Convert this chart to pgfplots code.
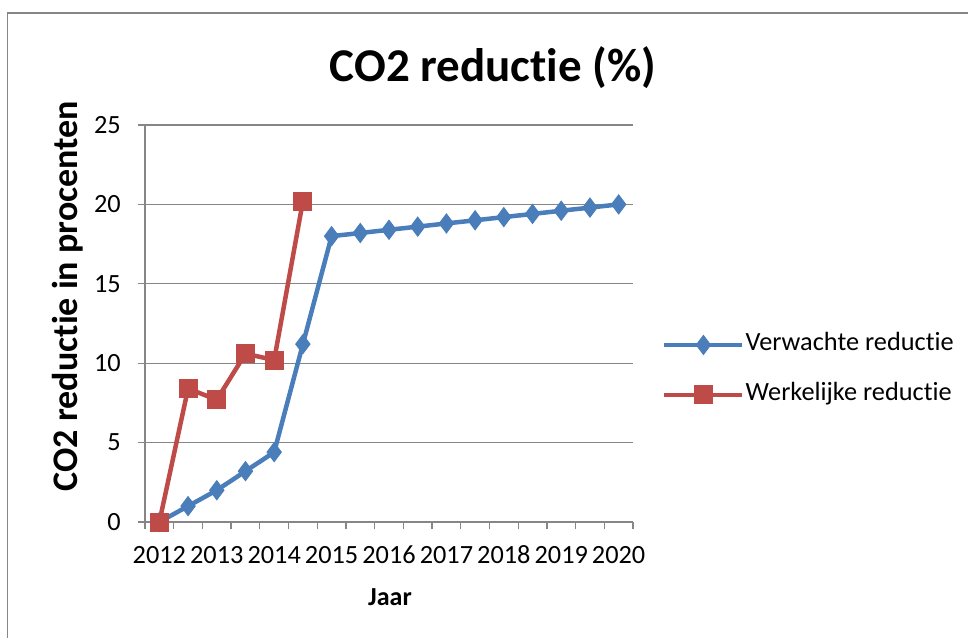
\documentclass[border=0pt]{standalone}
\usepackage{pgfplots}
\pgfplotsset{compat=1.18}
\usepackage{fontspec}
\setmainfont{Carlito}[Ligatures={NoCommon}]
\definecolor{bl}{RGB}{74,126,187}
\definecolor{rd}{RGB}{190,75,72}
\definecolor{axc}{RGB}{134,134,134}
\begin{document}
\begin{tikzpicture}[x=1pt,y=1pt]
\draw[axc, line width=1.5pt] (7.5,-640) -- (7.5,-13) -- (970,-13);
\begin{axis}[
  at={(145pt,-522pt)}, anchor=south west,
  scale only axis, width=488pt, height=397pt,
  xmin=-0.5, xmax=16.5, ymin=0, ymax=25,
  clip=false,
  axis x line*=bottom, axis y line*=left,
  axis line style={axc, line width=1.4pt},
  xtick={0,2,...,16},
  xticklabels={2012,2013,2014,2015,2016,2017,2018,2019,2020},
  minor xtick={-0.5,0.5,...,16.5},
  major x tick style={draw=none},
  minor x tick style={axc, line width=1.3pt},
  major y tick style={axc, line width=1.3pt},
  tick align=outside,
  major tick length=7pt, minor tick length=7pt,
  ytick={0,5,...,25},
  ymajorgrids, grid style={axc, line width=1.3pt},
  /pgf/number format/assume math mode=true,
  tick label style={font=\fontsize{26.3}{30}\selectfont},
  xticklabel style={inner sep=0pt, anchor=base, yshift=-34pt},
  yticklabel style={inner sep=0pt, anchor=east, xshift=-17pt},
  legend style={at={(1.0594,0.383)}, anchor=west, draw=none, fill=none,
    inner sep=0pt, row sep=24pt,
    nodes={inner sep=1pt, text height=18pt, text depth=6pt, font=\fontsize{26.3}{30}\selectfont}},
  legend cell align=left,
  legend image code/.code={\draw[mark repeat=2,mark phase=2,#1] plot coordinates {(0pt,0pt) (39pt,0pt) (78pt,0pt)};},
]
\addplot[bl, line width=4.5pt, mark=diamond*, mark size=9.5pt, mark options={solid, fill=bl, line width=1pt}] coordinates {
(0,0) (1,1) (2,2) (3,3.2) (4,4.4) (5,11.2) (6,18) (7,18.2) (8,18.4) (9,18.6) (10,18.8) (11,19) (12,19.2) (13,19.4) (14,19.6) (15,19.8) (16,20)};
\addlegendentry{Verwachte reductie}
\addplot[rd, line width=4.5pt, mark=square*, mark size=9pt, mark options={solid, fill=rd, line width=1pt}] coordinates {
(0,0) (1,8.4) (2,7.7) (3,10.6) (4,10.2) (5,20.2)};
\addlegendentry{Werkelijke reductie}
\end{axis}
\node[anchor=base, inner sep=0pt, font=\bfseries\fontsize{47}{50}\selectfont] at (493,-81) {CO2 reductie (\%)};
\node[anchor=base, inner sep=0pt, rotate=90, font=\bfseries\fontsize{36}{40}\selectfont] at (77,-296) {CO2 reductie in procenten};
\node[anchor=base, inner sep=0pt, font=\bfseries\fontsize{26}{28}\selectfont] at (390,-605) {Jaar};
\pgfresetboundingbox
\path[use as bounding box] (0,0) rectangle (968,-637);
\end{tikzpicture}
\end{document}
